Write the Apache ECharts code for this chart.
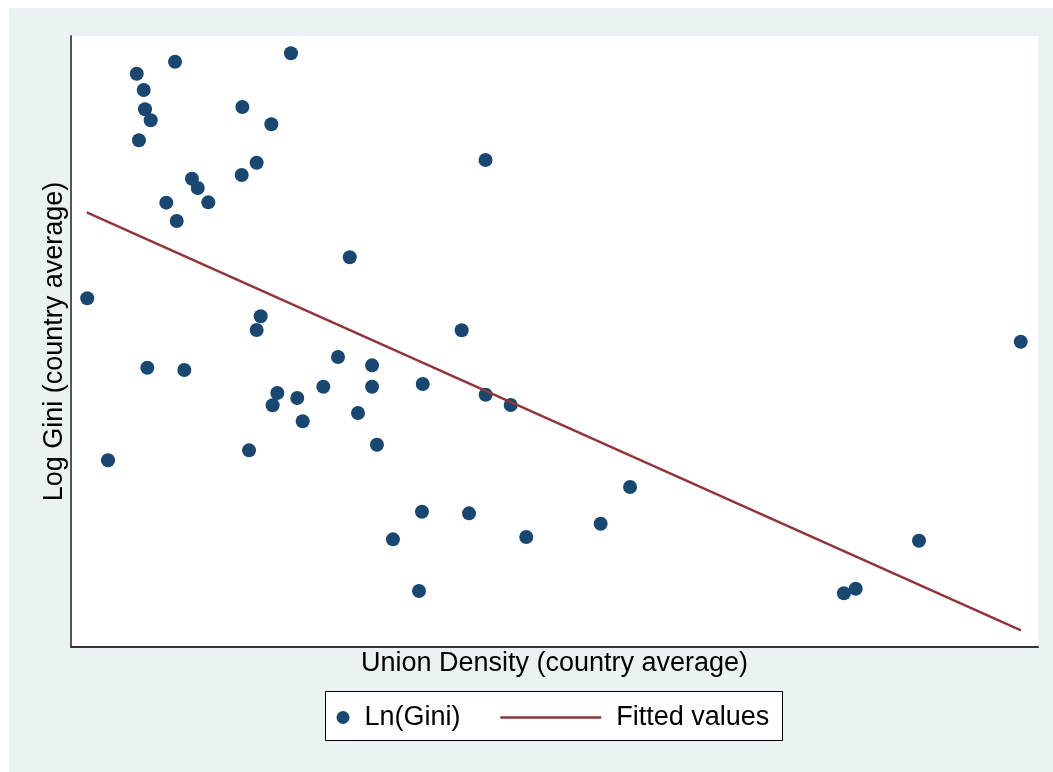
<!DOCTYPE html>
<html>
<head>
<meta charset="utf-8">
<script src="https://cdn.jsdelivr.net/npm/echarts@6/dist/echarts.min.js"></script>
<style>
  html, body { margin: 0; padding: 0; background: #ffffff; }
  #chart { width: 1053px; height: 772px; }
</style>
</head>
<body>
<div id="chart"></div>
<script>
// Union density (country average, %) for each country
const unionDensity = [
  24.06, 15.07, 12.10, 12.64, 12.74, 13.18, 12.27, 20.29, 22.54, 21.40,
  20.24, 16.38, 16.83, 14.39, 17.65, 15.20, 8.26, 21.71, 21.40, 12.92,
  15.79, 27.71, 30.35, 23.00, 22.64, 24.55, 26.57, 30.35, 29.26, 24.97,
  30.73, 20.81, 9.87, 28.62, 37.30, 34.28, 39.16, 41.10, 50.36, 34.22,
  37.87, 48.08, 42.31, 31.97, 33.99, 80.66, 72.77, 67.86, 66.95, 39.15
];
// Log Gini (country average), same order
const lnGini = [
  3.9245, 3.9121, 3.8945, 3.8705, 3.8420, 3.8258, 3.7964, 3.8454, 3.8199, 3.7634,
  3.7453, 3.7398, 3.7261, 3.7045, 3.7050, 3.6775, 3.5636, 3.5371, 3.5169, 3.4614,
  3.4580, 3.4772, 3.4649, 3.4241, 3.4060, 3.4168, 3.4334, 3.4334, 3.3947, 3.3825,
  3.3480, 3.3397, 3.3250, 3.6240, 3.5165, 3.4374, 3.4216, 3.4065, 3.2857, 3.2493,
  3.2469, 3.2316, 3.2120, 3.2086, 3.1325, 3.4997, 3.2066, 3.1359, 3.1291, 3.7673
];
// Fitted regression line at the lowest and highest union density
const fitX = [8.22, 80.68];
const fitY = [3.6903, 3.0745];

const seriesNames = ['Ln(Gini)', 'Fitted values'];

const navy = '#1a476f';
const maroon = '#90353b';
const fontFamily = '"Liberation Sans", Arial, Helvetica, sans-serif';

const points = unionDensity.map((x, i) => [x, lnGini[i]]);
const fitted = fitX.map((x, i) => [x, fitY[i]]);

const chart = echarts.init(document.getElementById('chart'), null, { renderer: 'canvas' });

chart.setOption({
  animation: false,
  backgroundColor: '#ffffff',
  textStyle: { fontFamily: fontFamily },
  graphic: [
    {
      type: 'rect', z: -10, silent: true,
      shape: { x: 9, y: 8, width: 1044, height: 764 },
      style: { fill: '#eaf2f3' }
    },
    {
      type: 'rect', z: 1, silent: true,
      shape: { x: 325.5, y: 691.5, width: 457, height: 49 },
      style: { fill: '#ffffff', stroke: '#000000', lineWidth: 1 }
    }
  ],
  grid: {
    left: 71, right: 15, top: 36, bottom: 125,
    show: true, backgroundColor: '#ffffff', borderWidth: 0
  },
  xAxis: {
    type: 'value', min: 7, max: 82,
    name: 'Union Density (country average)',
    nameLocation: 'middle', nameGap: 3,
    nameTextStyle: { fontSize: 27, color: '#000000', fontFamily: fontFamily },
    axisLine: { show: true, onZero: false, lineStyle: { color: '#333333', width: 2 } },
    axisTick: { show: false }, axisLabel: { show: false }, splitLine: { show: false }
  },
  yAxis: {
    type: 'value', min: 3.05, max: 3.95,
    name: 'Log Gini (country average)',
    nameLocation: 'middle', nameGap: 3,
    nameTextStyle: { fontSize: 27, color: '#000000', fontFamily: fontFamily },
    axisLine: { show: true, onZero: false, lineStyle: { color: '#555555', width: 2 } },
    axisTick: { show: false }, axisLabel: { show: false }, splitLine: { show: false }
  },
  legend: [
    {
      data: [{ name: seriesNames[0], icon: 'circle' }],
      left: 336.5, top: 704, itemWidth: 33, itemHeight: 13, padding: 0,
      selectedMode: false,
      textStyle: { fontSize: 27, color: '#000000', fontFamily: fontFamily }
    },
    {
      // line-only key: the marker drawn on the line icon is made transparent
      data: [{ name: seriesNames[1] }],
      left: 499, top: 704, itemWidth: 101, itemHeight: 13, padding: 0,
      selectedMode: false,
      itemStyle: { color: 'rgba(0,0,0,0)', borderWidth: 0 },
      lineStyle: { color: maroon, width: 2.5 },
      textStyle: { fontSize: 27, color: '#000000', fontFamily: fontFamily, padding: [0, 0, 0, 10] }
    }
  ],
  series: [
    {
      name: seriesNames[0], type: 'scatter', data: points,
      symbol: 'circle', symbolSize: 14,
      itemStyle: { color: navy, opacity: 1 },
      silent: true
    },
    {
      name: seriesNames[1], type: 'line', data: fitted,
      symbol: 'none', showSymbol: false,
      lineStyle: { color: maroon, width: 2.5 },
      itemStyle: { color: maroon },
      silent: true
    }
  ]
});
</script>
</body>
</html>
